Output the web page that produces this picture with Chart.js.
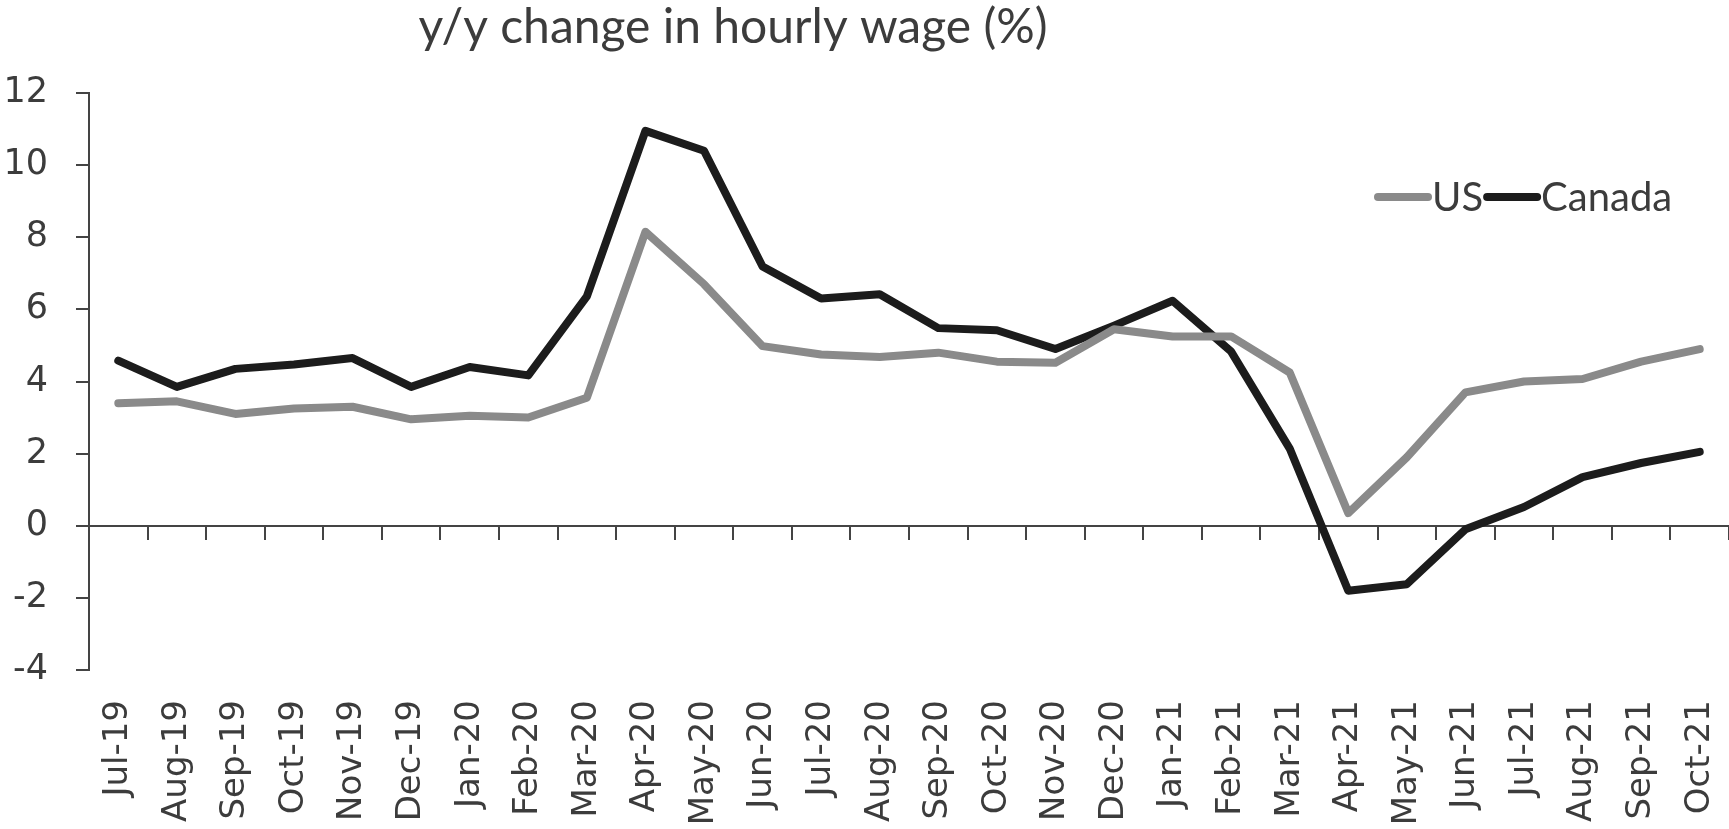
<!DOCTYPE html>
<html lang="en">
<head>
    <meta charset="UTF-8">
    <title>Chart</title>
    <style>
        body {
            margin: 0;
            padding: 0;
            background: #fff;
        }
        #wrap {
            width: 1729px;
            height: 829px;
        }
    </style>
    <script src="https://cdn.jsdelivr.net/npm/chart.js@4/dist/chart.umd.min.js"></script>
</head>
<body>
<div id="wrap">
    <canvas id="chart"></canvas>
</div>
<script>
    var months = ['Jul-19', 'Aug-19', 'Sep-19', 'Oct-19', 'Nov-19', 'Dec-19',
        'Jan-20', 'Feb-20', 'Mar-20', 'Apr-20', 'May-20', 'Jun-20', 'Jul-20', 'Aug-20',
        'Sep-20', 'Oct-20', 'Nov-20', 'Dec-20', 'Jan-21', 'Feb-21', 'Mar-21', 'Apr-21',
        'May-21', 'Jun-21', 'Jul-21', 'Aug-21', 'Sep-21', 'Oct-21'];

    var usWage = [3.4, 3.45, 3.1, 3.25, 3.3, 2.95, 3.05, 3.0, 3.55, 8.15, 6.7, 4.98,
        4.75, 4.68, 4.8, 4.55, 4.52, 5.45, 5.25, 5.25, 4.25, 0.35, 1.9, 3.7, 4.0, 4.07,
        4.55, 4.9];

    var canadaWage = [4.58, 3.85, 4.35, 4.47, 4.65, 3.85, 4.4, 4.17, 6.36, 10.95, 10.4,
        7.19, 6.3, 6.42, 5.48, 5.42, 4.9, 5.55, 6.24, 4.83, 2.14, -1.8, -1.62, -0.1,
        0.52, 1.35, 1.74, 2.05];

    var titleText = 'y/y change in hourly wage (%)';

    var textColor = '#3c3c3c';
    var axisColor = '#444444';
    var usColor = '#8a8a8a';
    var canadaColor = '#1c1c1c';

    // title and legend are drawn by hand so they can sit where the original has them
    var extras = {
        id: 'extras',
        afterDraw: function(chart) {
            var ctx = chart.ctx;
            ctx.save();
            ctx.fillStyle = textColor;
            ctx.font = '48px Lato, "Open Sans", sans-serif';
            ctx.textAlign = 'center';
            ctx.textBaseline = 'middle';
            ctx.fillText(titleText, 733, 28);

            var y = 197;
            var x = 1374;
            ctx.font = '40px Lato, "Open Sans", sans-serif';
            ctx.textAlign = 'left';
            chart.data.datasets.forEach(function(ds) {
                ctx.strokeStyle = ds.borderColor;
                ctx.lineWidth = 8;
                ctx.lineCap = 'round';
                ctx.beginPath();
                ctx.moveTo(x + 4, y);
                ctx.lineTo(x + 54, y);
                ctx.stroke();
                x += 58;
                ctx.fillText(ds.label, x, y + 1);
                x += ctx.measureText(ds.label).width;
            });
            ctx.restore();
        }
    };

    new Chart(document.getElementById('chart'), {
        type: 'line',
        data: {
            labels: months,
            datasets: [
                { label: 'US', data: usWage, borderColor: usColor, backgroundColor: usColor },
                { label: 'Canada', data: canadaWage, borderColor: canadaColor, backgroundColor: canadaColor }
            ]
        },
        options: {
            responsive: true,
            maintainAspectRatio: false,
            animation: false,
            layout: { padding: { top: 93, left: 0, right: 0, bottom: 0 } },
            elements: {
                line: { borderWidth: 8, tension: 0, borderJoinStyle: 'round', borderCapStyle: 'round' },
                point: { radius: 0 }
            },
            plugins: {
                legend: { display: false },
                title: { display: false },
                tooltip: { enabled: false }
            },
            scales: {
                x: {
                    offset: true,
                    border: { display: false },
                    grid: { display: false, drawTicks: false },
                    ticks: {
                        color: textColor,
                        font: { family: '"DejaVu Sans"', size: 34 },
                        minRotation: 90,
                        maxRotation: 90,
                        autoSkip: false,
                        padding: 30
                    },
                    afterFit: function(axis) {
                        axis.height = 159;
                        axis.paddingLeft = 0;
                        axis.paddingRight = 0;
                    }
                },
                x0: {
                    type: 'category',
                    position: { y: 0 },
                    offset: true,
                    border: { display: true, color: axisColor, width: 2 },
                    grid: { offset: true, drawOnChartArea: false, tickLength: 13, color: axisColor, lineWidth: 2 },
                    ticks: { display: false },
                    afterFit: function(axis) {
                        axis.height = 0;
                        axis.paddingLeft = 0;
                        axis.paddingRight = 0;
                    }
                },
                y: {
                    min: -4,
                    max: 12,
                    border: { color: axisColor, width: 2 },
                    grid: { drawOnChartArea: false, tickLength: 13, color: axisColor, lineWidth: 2 },
                    ticks: {
                        stepSize: 2,
                        color: textColor,
                        font: { family: '"DejaVu Sans"', size: 35 },
                        padding: 28
                    },
                    afterFit: function(axis) { axis.width = 89; }
                }
            }
        },
        plugins: [extras]
    });
</script>
</body>
</html>
